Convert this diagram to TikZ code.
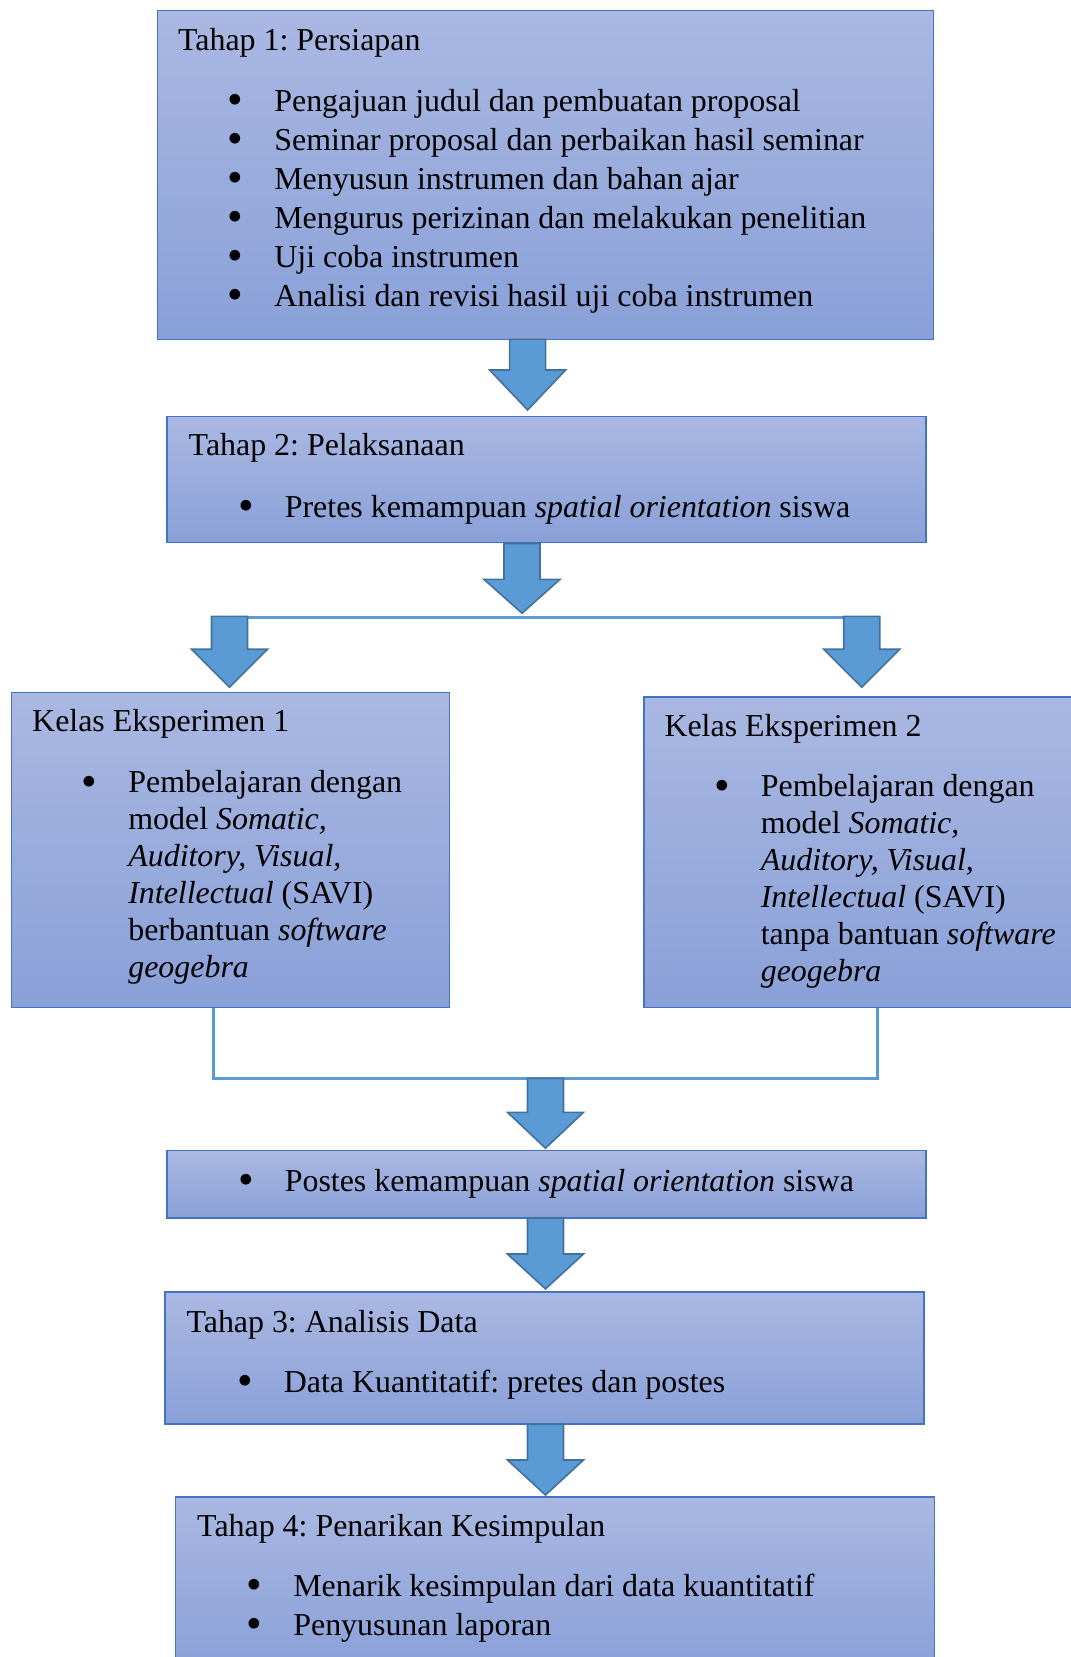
\documentclass[tikz,border=0pt]{standalone}
\usepackage{fontspec}
\usepackage{graphicx}
\setmainfont{Liberation Serif}
\usetikzlibrary{fit}
\frenchspacing

\definecolor{boxtop}{RGB}{170,184,226}
\definecolor{boxbot}{RGB}{137,160,216}
\definecolor{boxline}{RGB}{68,114,196}
\definecolor{arrfill}{RGB}{91,155,213}
\definecolor{arrline}{RGB}{65,113,156}

\newlength\bulgap
\setlength\bulgap{17.6pt}
\newcommand\itm{\makebox[\bulgap][l]{\raisebox{-0.1em}{\scalebox{1.4}{\textbullet}}}}
\newcommand\cont{\hspace*{\bulgap}}
\newcommand\blockdown[4]{%
  \draw[blockarr] (#1-18,#2) -- (#1+18,#2) -- (#1+18,#3) -- (#1+38,#3)
    -- (#1,#4) -- (#1-38,#3) -- (#1-18,#3) -- cycle;}

\begin{document}
\begin{tikzpicture}[x=0.376pt, y=-0.376pt,
    stage/.style={draw=boxline, line width=0.6pt, top color=boxtop, bottom color=boxbot, inner sep=0pt},
    blockarr/.style={fill=arrfill, draw=arrline, line width=0.6pt, line join=miter},
    link/.style={draw=arrfill, line width=1.1pt},
    txt/.style={inner sep=0pt, anchor=base west, align=left, font=\fontsize{12}{14.66}\selectfont},
    tight/.style={txt, font=\fontsize{12}{13.84}\selectfont}]
  \useasboundingbox (0,0) rectangle (1071,1657);

  \node[stage, fit={(157.5,10.6) (933.6,339.4)}] (tahap1) {};
  \node[stage, fit={(167,416.6) (926.2,542.4)}] (tahap2) {};
  \node[stage, fit={(11.6,692.5) (449.3,1007.6)}] (kelas1) {};
  \node[stage, fit={(643.9,696.8) (1080,1007.6)}] (kelas2) {};
  \node[stage, fit={(167,1150.3) (926.2,1218)}] (postes) {};
  \node[stage, fit={(165,1292) (924,1424.2)}] (tahap3) {};
  \node[stage, fit={(175.5,1497) (934.6,1670)}] (tahap4) {};

  \node[txt] (judul1) at (177.6,50) {Tahap 1: Persiapan};
  \node[txt] (isi1) at (227,306) {\itm Pengajuan judul dan pembuatan proposal\\
    \itm Seminar proposal dan perbaikan hasil seminar\\
    \itm Menyusun instrumen dan bahan ajar\\
    \itm Mengurus perizinan dan melakukan penelitian\\
    \itm Uji coba instrumen\\
    \itm Analisi dan revisi hasil uji coba instrumen};

  \node[txt] (judul2) at (188.2,455.5) {Tahap 2: Pelaksanaan};
  \node[txt] (isi2) at (237.5,517) {\itm Pretes kemampuan \textit{spatial orientation} siswa};

  \node[txt] (judulk1) at (31.7,731.5) {Kelas Eksperimen 1};
  \node[tight] (isik1) at (81,977) {\itm Pembelajaran dengan\\
    \cont model \textit{Somatic,}\\
    \cont \textit{Auditory, Visual,}\\
    \cont \textit{Intellectual} (SAVI)\\
    \cont berbantuan \textit{software}\\
    \cont \textit{geogebra}};

  \node[txt] (judulk2) at (664,736.8) {Kelas Eksperimen 2};
  \node[tight] (isik2) at (713.5,981) {\itm Pembelajaran dengan\\
    \cont model \textit{Somatic,}\\
    \cont \textit{Auditory, Visual,}\\
    \cont \textit{Intellectual} (SAVI)\\
    \cont tanpa bantuan \textit{software}\\
    \cont \textit{geogebra}};

  \node[txt] (isipos) at (237.5,1191.6) {\itm Postes kemampuan \textit{spatial orientation} siswa};

  \node[txt] (judul3) at (186,1332) {Tahap 3: Analisis Data};
  \node[txt] (isi3) at (236.5,1392.5) {\itm Data Kuantitatif: pretes dan postes};

  \node[txt] (judul4) at (196.7,1536) {Tahap 4: Penarikan Kesimpulan};
  \node[txt] (isi4) at (246,1635.5) {\itm Menarik kesimpulan dari data kuantitatif\\
    \itm Penyusunan laporan};

  \coordinate (cabang1) at (229.5,617.5);
  \coordinate (cabang2) at (861.7,617.5);
  \draw[link] (cabang1) -- (cabang2);
  \coordinate (k1out) at (213.6,1007.6);
  \coordinate (k2out) at (877.5,1007.6);
  \coordinate (gabung) at (545.5,1078.4);
  \draw[link] (k1out) |- (gabung) -| (k2out);

  \blockdown{527.6}{339.4}{370}{410}
  \blockdown{522}{543.5}{579.4}{613.2}
  \foreach \x in {229.5, 861.7} {
    \blockdown{\x}{616.4}{649.2}{687.2}
  }
  \foreach \t/\b/\p in {1078.4/1112.3/1148.2, 1218/1254/1288.9, 1424.2/1460/1495} {
    \blockdown{545.5}{\t}{\b}{\p}
  }
\end{tikzpicture}
\end{document}
